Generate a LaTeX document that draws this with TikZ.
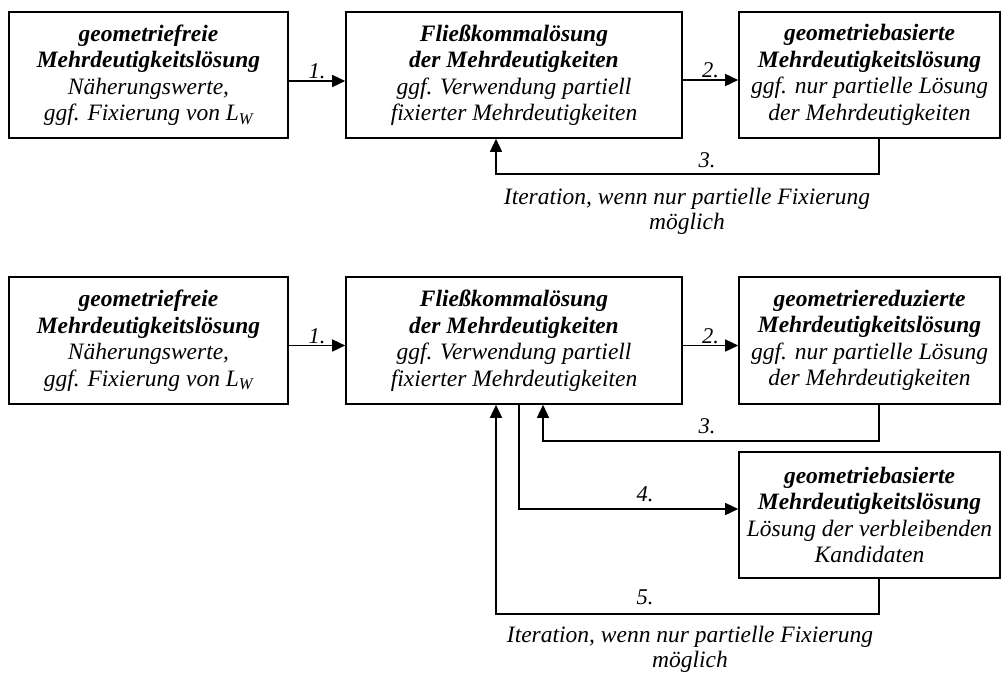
\documentclass[tikz,border=0pt]{standalone}
\usepackage{fontspec}
\setmainfont{Liberation Serif}
\usetikzlibrary{arrows.meta}
\begin{document}
\begin{tikzpicture}[x=1pt,y=-1pt,
  box/.style={draw,line width=1.6pt,align=center,inner sep=0pt,minimum height=126pt,
    font=\fontsize{23.5}{26.5}\selectfont\itshape},
  arr/.style={line width=1.5pt,-{Triangle[length=13pt,width=12pt]}},
  lbl/.style={font=\fontsize{22.5}{24}\selectfont\itshape,inner sep=1pt},
  note/.style={font=\fontsize{23.5}{25}\selectfont\itshape,align=center,inner sep=0pt}]
\useasboundingbox (0,0) rectangle (1006,673);
\coordinate (xr) at (879,0);
\coordinate (xl) at (496,0);
\coordinate (xm) at (543,0);
\coordinate (xd) at (519,0);
% top row
\node[box,minimum width=279pt] (A1) at (148.5,75) {\textbf{geometriefreie}\\\textbf{Mehrdeutigkeitslösung}\\Näherungswerte,\\ggf. Fixierung von L\textsubscript{W}};
\node[box,minimum width=336pt] (B1) at (514,75) {\textbf{Fließkommalösung}\\\textbf{der Mehrdeutigkeiten}\\ggf. Verwendung partiell\\fixierter Mehrdeutigkeiten};
\node[box,minimum width=261pt] (C1) at (869.5,75) {\textbf{geometriebasierte}\\\textbf{Mehrdeutigkeitslösung}\\ggf. nur partielle Lösung\\der Mehrdeutigkeiten};
\draw[arr] ([yshift=-6pt]A1.east) -- node[lbl,above] (l1) {1.} ([yshift=-6pt]B1.west);
\draw[arr] ([yshift=-5pt]B1.east) -- node[lbl,above] (l2) {2.} ([yshift=-5pt]C1.west);
\draw[arr] (C1.south -| xr) -- ++(0,35) -| (B1.south -| xl);
\node[lbl] (l3) at (707,160) {3.};
\node[note] (n1) at (687,211) {Iteration, wenn nur partielle Fixierung\\möglich};
% bottom row
\node[box,minimum width=279pt,minimum height=127pt] (A2) at (148.5,340.5) {\textbf{geometriefreie}\\\textbf{Mehrdeutigkeitslösung}\\Näherungswerte,\\ggf. Fixierung von L\textsubscript{W}};
\node[box,minimum width=336pt,minimum height=127pt] (B2) at (514,340.5) {\textbf{Fließkommalösung}\\\textbf{der Mehrdeutigkeiten}\\ggf. Verwendung partiell\\fixierter Mehrdeutigkeiten};
\node[box,minimum width=261pt,minimum height=127pt] (C2) at (869.5,340.5) {\textbf{geometriereduzierte}\\\textbf{Mehrdeutigkeitslösung}\\ggf. nur partielle Lösung\\der Mehrdeutigkeiten};
\node[box,minimum width=261pt] (D) at (869.5,515) {\textbf{geometriebasierte}\\\textbf{Mehrdeutigkeitslösung}\\Lösung der verbleibenden\\Kandidaten};
\draw[arr] ([yshift=-5pt]A2.east) -- node[lbl,above] (m1) {1.} ([yshift=-5pt]B2.west);
\draw[arr] ([yshift=-5pt]B2.east) -- node[lbl,above] (m2) {2.} ([yshift=-5pt]C2.west);
\draw[arr] (C2.south -| xr) -- ++(0,36) -| (B2.south -| xm);
\node[lbl] (m3) at (707,426) {3.};
\draw[arr] (B2.south -| xd) |- ([yshift=6pt]D.west);
\node[lbl] (m4) at (645,494) {4.};
\draw[arr] (D.south -| xr) -- ++(0,35) -| (B2.south -| xl);
\node[lbl] (m5) at (645,597) {5.};
\node[note] (n2) at (690,649) {Iteration, wenn nur partielle Fixierung\\möglich};
\end{tikzpicture}
\end{document}
